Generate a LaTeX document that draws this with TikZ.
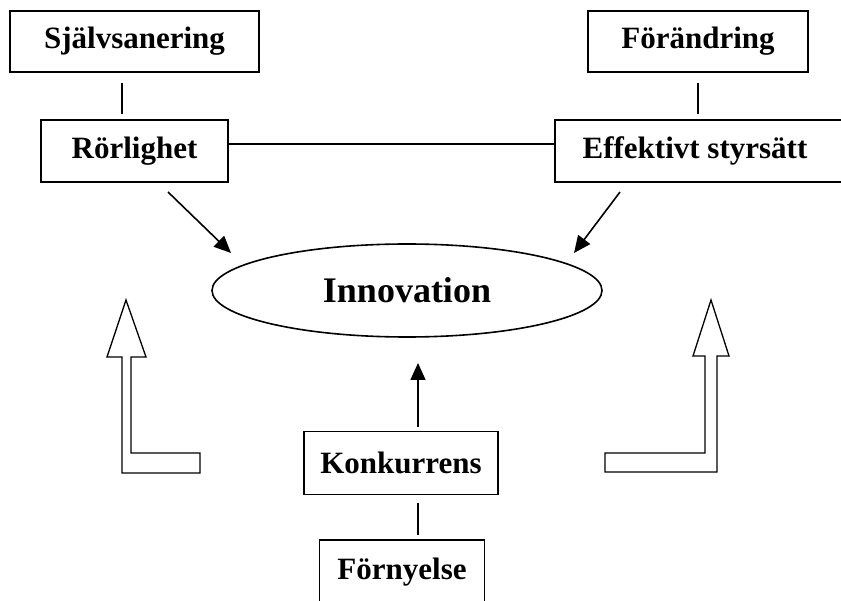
\documentclass[tikz,border=0pt]{standalone}
\usepackage{fontspec}
\setmainfont{Liberation Serif}
\usetikzlibrary{arrows.meta,shapes.geometric}
\begin{document}
\begin{tikzpicture}[x=1pt,y=-1pt,
  box/.style={draw,line width=1.6pt,inner sep=0pt,font=\fontsize{31}{31}\selectfont\bfseries},
  lbl/.style={inner sep=0pt,font=\fontsize{31}{31}\selectfont\bfseries},
  conn/.style={line width=1.6pt},
  arr/.style={line width=1.6pt,-{Triangle[length=17pt,width=15pt]}},
  block/.style={draw,line width=1.3pt,line join=miter}]
\useasboundingbox (0,0) rectangle (841,601);
\clip (0,0) rectangle (841,601);
% boxes
\node[box,minimum width=249pt,minimum height=61pt] (s) at (134.5,41.5) {Självsanering};
\node[box,minimum width=220pt,minimum height=61pt] (f) at (698,41.5) {Förändring};
\node[box,minimum width=187pt,minimum height=62pt] (r) at (134.5,151) {Rörlighet};
\node[box,minimum width=305pt,minimum height=62pt] (e) at (707.5,151) {};
\node[lbl] (et) at (695,151) {Effektivt styrsätt};
\node[draw,ellipse,line width=1.6pt,minimum width=390pt,minimum height=93pt,inner sep=0pt,
      font=\fontsize{36}{36}\selectfont\bfseries] (i) at (407,290.5) {Innovation};
\node[box,minimum width=194pt,minimum height=63pt] (k) at (401,463) {Konkurrens};
\node[box,minimum width=165pt,minimum height=64pt] (n) at (402,572) {Förnyelse};
% connector ends
\coordinate (s1) at (122,83); \coordinate (r1) at (122,114);
\coordinate (f1) at (698,83); \coordinate (e1) at (698,114);
\coordinate (k1) at (418,503); \coordinate (n1) at (418,535);
\coordinate (ra) at (168,192); \coordinate (rb) at (231,253);
\coordinate (ea) at (620,192); \coordinate (eb) at (574,253);
\coordinate (ka) at (418,427); \coordinate (kb) at (418,363);
\draw[conn] (s1) -- (r1);
\draw[conn] (f1) -- (e1);
\draw[conn] (k1) -- (n1);
\draw[conn] (r.east |- 0,144) -- (e.west |- 0,144);
\draw[arr] (ra) -- (rb);
\draw[arr] (ea) -- (eb);
\draw[arr] (ka) -- (kb);
% block arrows
\draw[block] (126,300) -- (146,357) -- (131,357) -- (131,453) -- (200,453) -- (200,473)
  -- (122,473) -- (122,357) -- (107,357) -- cycle;
\draw[block] (711,300) -- (729,356) -- (717,356) -- (717,472) -- (605,472) -- (605,453)
  -- (705,453) -- (705,356) -- (693,356) -- cycle;
\end{tikzpicture}
\end{document}
